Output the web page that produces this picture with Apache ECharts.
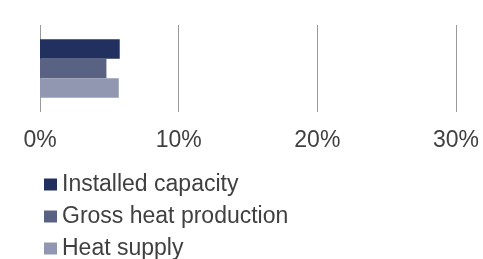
<!DOCTYPE html>
<html>
<head>
<meta charset="utf-8">
<script src="https://cdn.jsdelivr.net/npm/echarts@6/dist/echarts.min.js"></script>
<style>
  html, body { margin: 0; padding: 0; background: #fff; }
  #chart { width: 483px; height: 259px; }
</style>
</head>
<body>
<div id="chart"></div>
<script>
const categories = ["Share"];
const seriesNames = ["Installed capacity", "Gross heat production", "Heat supply"];
const installedCapacity = [5.75];
const grossHeatProduction = [4.79];
const heatSupply = [5.68];
const xTicks = { min: 0, max: 30, interval: 10 };
const colors = ["#22305f", "#5a6284", "#9197b0"];

const chart = echarts.init(document.getElementById("chart"));
const values = [installedCapacity, grossHeatProduction, heatSupply];

chart.setOption({
  animation: false,
  color: colors,
  textStyle: { fontFamily: "Liberation Sans, Arial, sans-serif" },
  legend: {
    orient: "vertical",
    left: 44,
    top: 173,
    height: 120,
    padding: 0,
    itemGap: 9,
    itemWidth: 13,
    itemHeight: 12,
    icon: "rect",
    textStyle: { fontSize: 23, color: "#404040" },
    data: seriesNames,
  },
  grid: {
    left: 40,
    right: 27,
    top: 25,
    height: 87,
  },
  xAxis: {
    type: "value",
    min: xTicks.min,
    max: xTicks.max,
    interval: xTicks.interval,
    axisLine: { show: false },
    axisTick: { show: false },
    axisLabel: {
      formatter: "{value}%",
      fontSize: 23,
      color: "#404040",
      margin: 17,
    },
    splitLine: { lineStyle: { color: "#999999", width: 1 } },
  },
  yAxis: {
    type: "category",
    inverse: true,
    data: categories,
    axisLine: { show: false },
    axisTick: { show: false },
    axisLabel: { show: false },
  },
  series: seriesNames.map((name, i) => ({
    name: name,
    type: "bar",
    data: values[i],
    barGap: "0%",
    barCategoryGap: "32.5%",
  })),
});
</script>
</body>
</html>
